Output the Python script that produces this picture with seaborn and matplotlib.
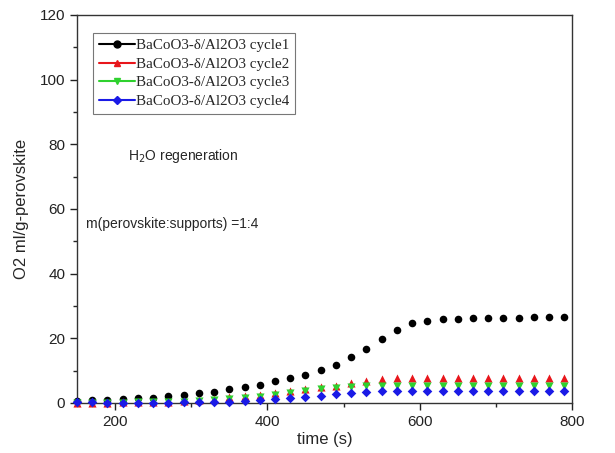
import numpy as np
import pandas as pd
import matplotlib
matplotlib.use("Agg")
import matplotlib.pyplot as plt
from matplotlib.lines import Line2D
from matplotlib.ticker import MultipleLocator
import seaborn as sns

time_s = list(range(150, 800, 20))
cycle1 = [0.5, 0.8, 1.0, 1.2, 1.4, 1.7, 2.1, 2.5, 3.0, 3.5, 4.2, 4.8, 5.6, 6.7, 7.6,
          8.8, 10.2, 11.9, 14.2, 16.7, 19.8, 22.7, 24.7, 25.5, 25.9, 26.1, 26.3, 26.3,
          26.4, 26.4, 26.5, 26.5, 26.5]
cycle2 = [0.1, 0.1, 0.1, 0.2, 0.2, 0.3, 0.4, 0.6, 0.9, 1.3, 1.8, 2.2, 2.6, 3.1, 3.6,
          4.2, 4.9, 5.4, 6.1, 6.9, 7.5, 7.8, 7.8, 7.8, 7.8, 7.8, 7.8, 7.8,
          7.8, 7.8, 7.8, 7.8, 7.8]
cycle3 = [0.1, 0.1, 0.1, 0.1, 0.2, 0.2, 0.3, 0.4, 0.6, 0.9, 1.2, 1.6, 2.0, 2.5, 3.0,
          3.6, 4.2, 4.7, 5.0, 5.2, 5.3, 5.3, 5.3, 5.3, 5.3, 5.3, 5.3, 5.3,
          5.3, 5.3, 5.3, 5.3, 5.3]
cycle4 = [0.3, 0.3, 0.1, 0.1, 0.1, 0.1, 0.1, 0.2, 0.2, 0.3, 0.4, 0.6, 0.8, 1.2, 1.5,
          1.9, 2.3, 2.7, 3.2, 3.4, 3.6, 3.6, 3.6, 3.6, 3.6, 3.6, 3.6, 3.6,
          3.6, 3.6, 3.6, 3.6, 3.6]
labels = ["BaCoO3-δ/Al2O3 cycle1", "BaCoO3-δ/Al2O3 cycle2",
          "BaCoO3-δ/Al2O3 cycle3", "BaCoO3-δ/Al2O3 cycle4"]

colors = ["#000000", "#e8161b", "#2fd12f", "#1a1ae6"]
markers = ["o", "^", "v", "D"]
sizes = [30, 34, 34, 24]

sns.set_style("ticks")
plt.rcParams['font.family'] = ['Liberation Sans', 'DejaVu Sans']

df = pd.DataFrame({
    "time": time_s * 4,
    "O2": cycle1 + cycle2 + cycle3 + cycle4,
    "series": sum([[l] * len(time_s) for l in labels], []),
})

W, H = 615, 453
fig = plt.figure(figsize=(W / 100, H / 100), dpi=100)
ax = fig.add_axes([77 / W, 50 / H, (572 - 77) / W, (403 - 15) / H])

for lab, c, m, s in zip(labels, colors, markers, sizes):
    sub = df[df["series"] == lab]
    sns.scatterplot(data=sub, x="time", y="O2", color=c, marker=m, s=s,
                    edgecolor=c, linewidth=0, ax=ax, legend=False, zorder=3, clip_on=False)

ax.set_xlim(150, 800)
ax.set_ylim(0, 120)
ax.xaxis.set_major_locator(MultipleLocator(200))
ax.xaxis.set_minor_locator(MultipleLocator(100))
ax.yaxis.set_major_locator(MultipleLocator(20))
ax.yaxis.set_minor_locator(MultipleLocator(10))
ax.tick_params(which="major", direction="out", length=5, width=1, labelsize=11, colors="#222222")
ax.tick_params(which="minor", direction="out", length=3, width=1)
ax.tick_params(top=False, right=False)
for sp in ax.spines.values():
    sp.set_linewidth(1.0)
    sp.set_color("#333333")

ax.set_xlabel("time (s)", fontsize=12, labelpad=2)
ax.set_ylabel("O2 ml/g-perovskite", fontsize=12, labelpad=8)

handles = [Line2D([0], [0], color=c, marker=m, markersize=5 if m != "D" else 4.5,
                  linewidth=1.5) for c, m in zip(colors, markers)]
leg = ax.legend(handles, labels, loc="upper left",
                bbox_to_anchor=((93 - 77) / (572 - 77), 1 - (33 - 15) / (403 - 15)),
                borderaxespad=0,
                prop={"family": "Liberation Serif", "size": 10.8},
                frameon=True, fancybox=False, edgecolor="#555555",
                handlelength=2.4, handletextpad=0.05, borderpad=0.4, labelspacing=0.33)
leg.get_frame().set_linewidth(0.8)

fig.text(128 / W, 1 - 160 / H, "H$_2$O regeneration", fontsize=10)
fig.text(86 / W, 1 - 228 / H, "m(perovskite:supports) =1:4", fontsize=10)

fig.savefig("out.png", dpi=100)
